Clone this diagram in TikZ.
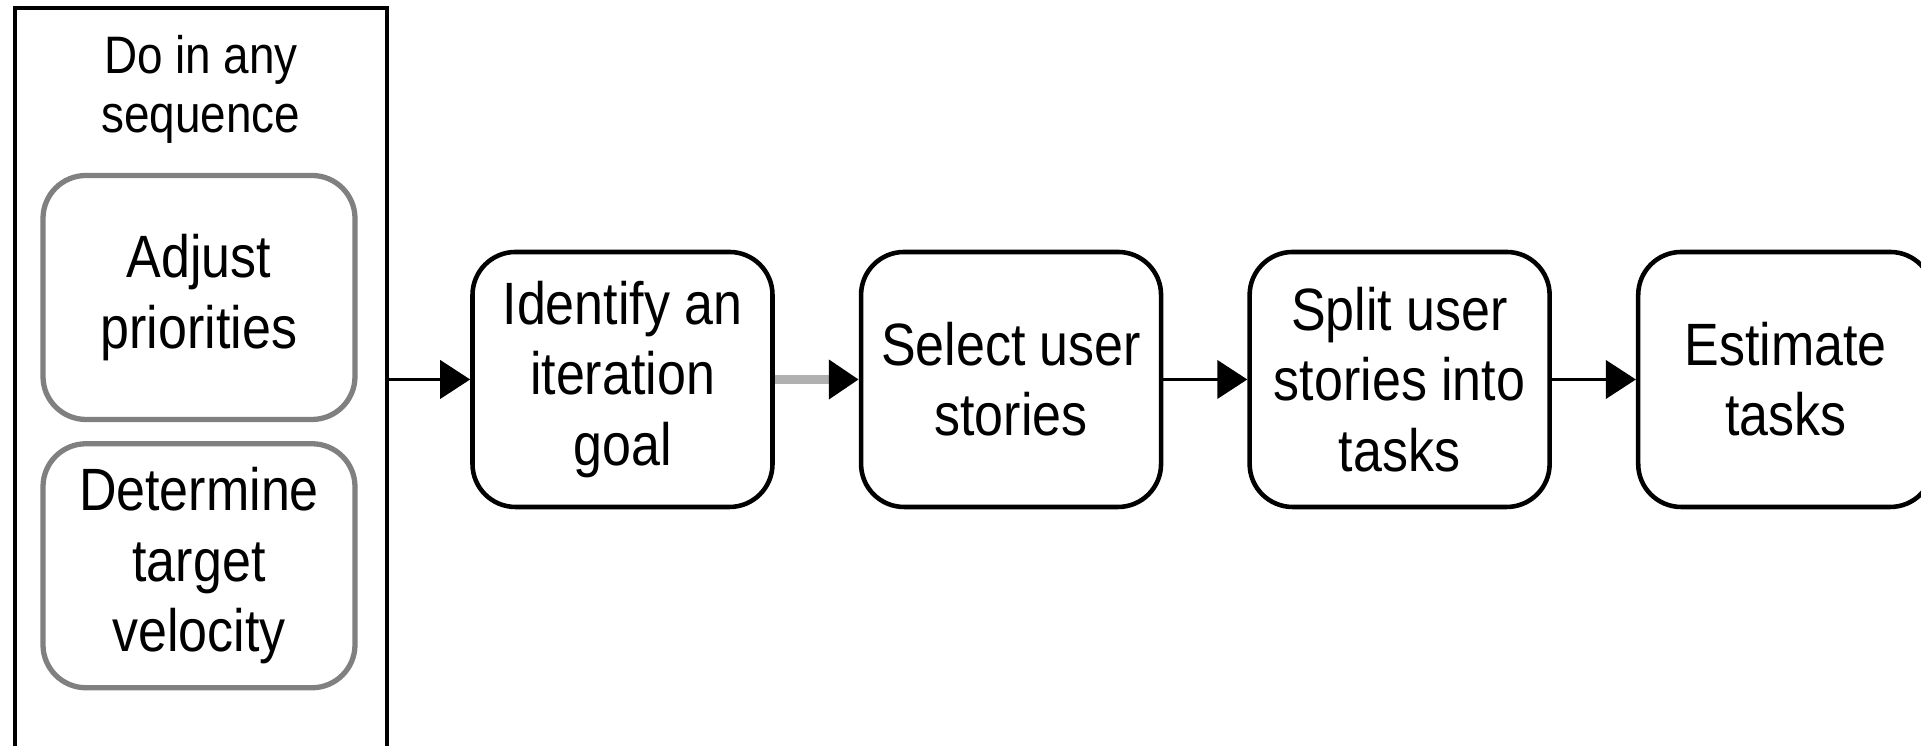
\documentclass[tikz,border=0pt]{standalone}
\usepackage{fontspec}
\setmainfont{Liberation Sans}[FakeStretch=0.87]
\usetikzlibrary{positioning,arrows.meta}

\begin{document}
\begin{tikzpicture}[
  task/.style={draw, line width=1.3pt, rounded corners=0.43cm, minimum width=3cm, minimum height=2.55cm, align=center, inner sep=0pt, font=\fontsize{17}{20}\selectfont},
  choice/.style={task, draw=black!50, line width=1.5pt, minimum width=3.12cm, minimum height=2.44cm},
  flow/.style={-{Triangle[length=0.3cm,width=0.38cm,color=black]}, line width=1.1pt}
]
  \useasboundingbox (0,0) rectangle (19.21,7.46);
  \clip (0,0) rectangle (19.21,7.46);
  \node[draw, line width=1.4pt, minimum width=3.72cm, minimum height=7.7cm, inner sep=0pt] (group) at (2.01,3.53) {};
  \node[align=center, font=\fontsize{15}{16.8}\selectfont] (title) at (2.01,6.57) {Do in any\\sequence};
  \node[choice] (adjust) at (1.99,4.485) {Adjust\\priorities};
  \node[choice, below=0.19cm of adjust] (velocity) {Determine\\target\\velocity};
  \node[task] (goal) at (6.225,3.665) {Identify an\\iteration\\goal};
  \node[task, right=0.84cm of goal] (select) {Select user\\stories};
  \node[task, right=0.84cm of select] (split) {Split user\\stories into\\tasks};
  \node[task, right=0.84cm of split, minimum width=2.95cm] (estimate) {Estimate\\tasks};
  \draw[flow] (group.east |- goal) -- (goal);
  \draw[flow, draw=black!31, line width=2.5pt] (goal) -- (select);
  \draw[flow] (select) -- (split);
  \draw[flow] (split) -- (estimate);
\end{tikzpicture}
\end{document}
